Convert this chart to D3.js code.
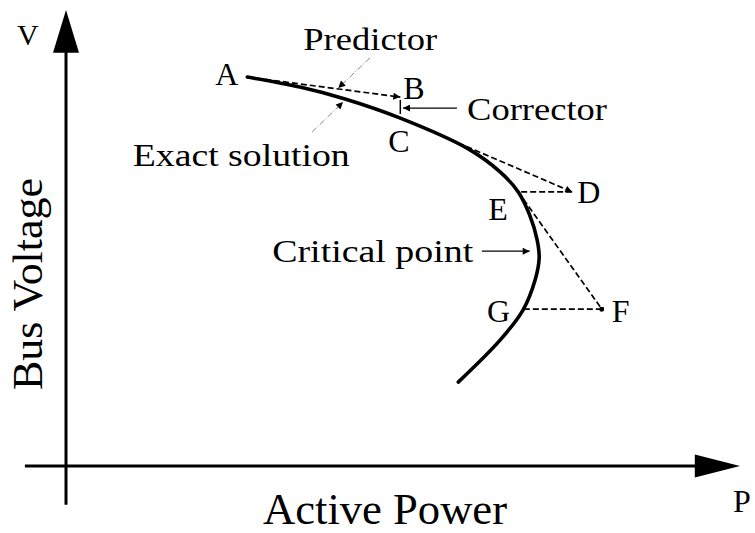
<!DOCTYPE html>
<html>
<head>
<meta charset="utf-8">
<script src="https://cdn.jsdelivr.net/npm/d3@7"></script>
<style>
body { margin: 0; background: #fff; }
text { font-family: "Liberation Serif", "Times New Roman", Times, serif; fill: #000; }
</style>
</head>
<body>
<div id="chart"></div>
<script>
// P-V nose curve (exact solution), P and V in 0..1
const curveP = [0.269, 0.347, 0.414, 0.496, 0.595, 0.644, 0.671, 0.688, 0.699, 0.702, 0.696, 0.678, 0.644, 0.582];
const curveV = [0.853, 0.831, 0.805, 0.763, 0.697, 0.645, 0.601, 0.550, 0.496, 0.456, 0.408, 0.342, 0.276, 0.184];

// named points of the continuation steps
const pointNames = ["A", "B", "C", "D", "E", "F", "G"];
const pointP = [0.269, 0.496, 0.496, 0.751, 0.671, 0.795, 0.678];
const pointV = [0.853, 0.809, 0.763, 0.601, 0.601, 0.344, 0.344];

// predictor (dashed, tangent) and corrector steps
const predictorSteps = [["A", "B"], ["C", "D"], ["E", "F"]];
const correctorSteps = [["D", "E"], ["F", "G"]];

const width = 755, height = 533;
const svg = d3.select("#chart").append("svg")
    .attr("width", width)
    .attr("height", height);

const x = d3.scaleLinear().domain([0, 1]).range([66, 740]);
const y = d3.scaleLinear().domain([0, 1]).range([466, 10]);

const pt = {};
pointNames.forEach((n, i) => { pt[n] = [pointP[i], pointV[i]]; });

const defs = svg.append("defs");
defs.append("marker")
    .attr("id", "arrow")
    .attr("viewBox", "0 0 10 10")
    .attr("refX", 10).attr("refY", 5)
    .attr("markerWidth", 9).attr("markerHeight", 7)
    .attr("markerUnits", "userSpaceOnUse")
    .attr("orient", "auto")
    .append("path").attr("d", "M0,0 L10,5 L0,10 Z").attr("fill", "#000");
defs.append("marker")
    .attr("id", "dot")
    .attr("viewBox", "0 0 10 10")
    .attr("refX", 5).attr("refY", 5)
    .attr("markerWidth", 5).attr("markerHeight", 5)
    .attr("markerUnits", "userSpaceOnUse")
    .append("circle").attr("cx", 5).attr("cy", 5).attr("r", 5).attr("fill", "#000");

// axes
svg.append("line")
    .attr("x1", x(0)).attr("y1", y(-0.085))
    .attr("x2", x(0)).attr("y2", y(0.91))
    .attr("stroke", "#000").attr("stroke-width", 3);
svg.append("path")
    .attr("d", `M${x(0)},${y(1)} L${x(0) - 13},${y(0.906)} L${x(0) + 13},${y(0.906)} Z`)
    .attr("fill", "#000");
svg.append("line")
    .attr("x1", x(-0.061)).attr("y1", y(0))
    .attr("x2", x(0.94)).attr("y2", y(0))
    .attr("stroke", "#000").attr("stroke-width", 3);
svg.append("path")
    .attr("d", `M${x(1)},${y(0)} L${x(0.933)},${y(0) - 11.5} L${x(0.933)},${y(0) + 11.5} Z`)
    .attr("fill", "#000");

// exact solution curve
const line = d3.line()
    .curve(d3.curveCatmullRom)
    .x(d => x(d[0]))
    .y(d => y(d[1]));
svg.append("path")
    .datum(curveP.map((p, i) => [p, curveV[i]]))
    .attr("d", line)
    .attr("fill", "none")
    .attr("stroke", "#000")
    .attr("stroke-width", 3.6)
    .attr("stroke-linecap", "round");

// predictor steps
predictorSteps.forEach((s, i) => {
    svg.append("line")
        .attr("x1", x(pt[s[0]][0])).attr("y1", y(pt[s[0]][1]))
        .attr("x2", x(pt[s[1]][0])).attr("y2", y(pt[s[1]][1]))
        .attr("stroke", "#000").attr("stroke-width", 1.7)
        .attr("stroke-dasharray", "6,3")
        .attr("marker-end", i === 2 ? "url(#dot)" : "url(#arrow)");
});
correctorSteps.forEach(s => {
    svg.append("line")
        .attr("x1", x(pt[s[0]][0])).attr("y1", y(pt[s[0]][1]))
        .attr("x2", x(pt[s[1]][0])).attr("y2", y(pt[s[1]][1]))
        .attr("stroke", "#000").attr("stroke-width", 1.7)
        .attr("stroke-dasharray", "6,3");
});
// corrector from B down to C
svg.append("line")
    .attr("x1", x(pt.B[0])).attr("y1", y(0.803))
    .attr("x2", x(pt.B[0])).attr("y2", y(0.772))
    .attr("stroke", "#000").attr("stroke-width", 1.5);

// label pointers
const pointers = [
    { from: [0.451, 0.895], to: [0.404, 0.829], dash: true },
    { from: [0.365, 0.732], to: [0.411, 0.798], dash: true },
    { from: [0.580, 0.785], to: [0.500, 0.785], dash: false },
    { from: [0.617, 0.471], to: [0.688, 0.471], dash: false }
];
pointers.forEach(d => {
    svg.append("line")
        .attr("x1", x(d.from[0])).attr("y1", y(d.from[1]))
        .attr("x2", x(d.to[0])).attr("y2", y(d.to[1]))
        .attr("stroke", d.dash ? "#888" : "#000")
        .attr("stroke-width", d.dash ? 1 : 1.2)
        .attr("stroke-dasharray", d.dash ? "6,2,1,2" : null)
        .attr("marker-end", "url(#arrow)");
});

// point letters
const letterPos = {
    A: [-32, 8], B: [3, 2], C: [-12, 34], D: [5, 11], E: [-30, 28], F: [10, 13], G: [-36, 13]
};
pointNames.forEach(n => {
    svg.append("text")
        .attr("x", x(pt[n][0]) + letterPos[n][0])
        .attr("y", y(pt[n][1]) + letterPos[n][1])
        .attr("font-size", 32)
        .text(n);
});

// annotations: text, P, V of baseline start, length
const notes = [
    { t: "Predictor", p: 0.352, v: 0.912, len: 134 },
    { t: "Exact solution", p: 0.099, v: 0.658, len: 217 },
    { t: "Corrector", p: 0.595, v: 0.759, len: 140 },
    { t: "Critical point", p: 0.306, v: 0.447, len: 201 }
];
notes.forEach(d => {
    svg.append("text")
        .attr("x", x(d.p)).attr("y", y(d.v))
        .attr("font-size", 32)
        .attr("textLength", d.len)
        .attr("lengthAdjust", "spacingAndGlyphs")
        .text(d.t);
});

// axis labels
svg.append("text")
    .attr("x", 263).attr("y", 524)
    .attr("font-size", 44)
    .attr("textLength", 244)
    .attr("lengthAdjust", "spacingAndGlyphs")
    .text("Active Power");
svg.append("text")
    .attr("transform", "translate(42,390) rotate(-90)")
    .attr("font-size", 43)
    .attr("textLength", 212)
    .attr("lengthAdjust", "spacingAndGlyphs")
    .text("Bus Voltage");
svg.append("text").attr("x", 733).attr("y", 512).attr("font-size", 32).text("P");
svg.append("text").attr("x", 17).attr("y", 45).attr("font-size", 30).text("V");
</script>
</body>
</html>
